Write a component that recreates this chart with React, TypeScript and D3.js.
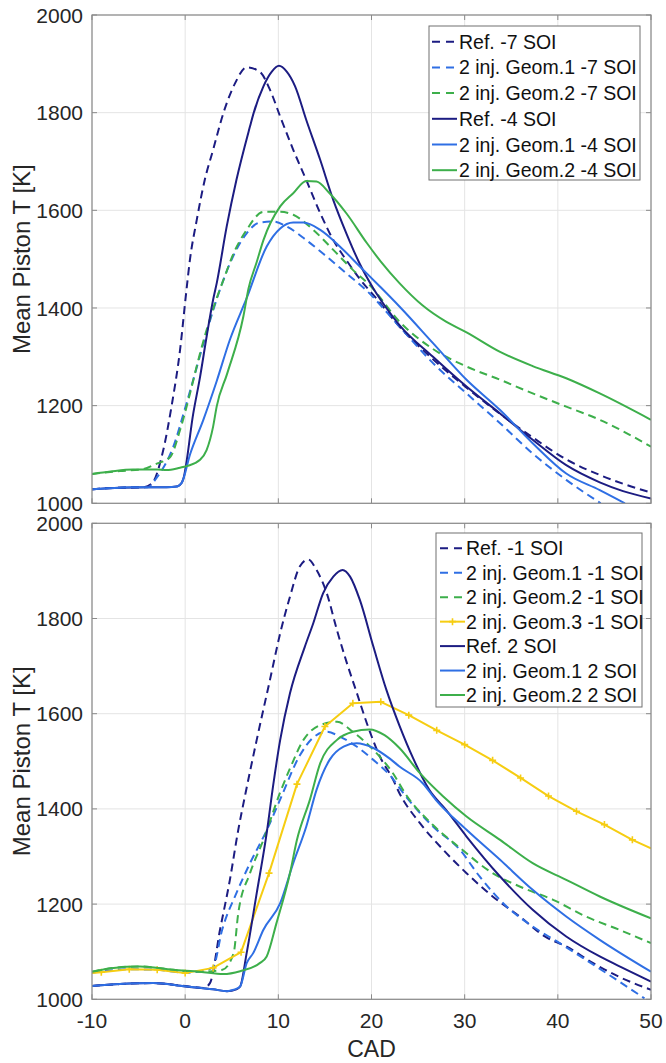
import React from "react";
import * as d3 from "d3";

type Pt = [number, number];

// ---------- axis ticks ----------
const CAD_TICKS = [-10, 0, 10, 20, 30, 40, 50];
const T_TICKS = [1000, 1200, 1400, 1600, 1800, 2000];

// ---------- top panel data (CAD, K) ----------
const refM7: Pt[] = [
  [-10, 1029], [-7, 1032], [-4.5, 1033], [-3.6, 1040], [-2.35, 1109], [-1.45, 1200], [-0.55, 1314],
  [0.1, 1430], [0.52, 1500], [1.24, 1580], [2.1, 1662], [3.0, 1724], [4.1, 1799], [5.35, 1860],
  [6.6, 1893], [8.0, 1884], [9.1, 1847], [10.2, 1792], [11.6, 1724], [13.0, 1662], [14.5, 1594],
  [15.9, 1539], [17.3, 1498], [18.8, 1458], [20.5, 1420], [23, 1362], [26.6, 1295], [30, 1240],
  [33.8, 1183], [37.3, 1135], [40.9, 1090], [44.5, 1058], [47, 1040], [50, 1022],
];
const geo1M7: Pt[] = [
  [-10, 1029], [-7, 1032], [-4, 1033], [-3.0, 1054], [-1.27, 1116], [0, 1195], [1, 1262],
  [2, 1330], [3, 1395], [4, 1452], [5.2, 1508], [6.6, 1553], [8.0, 1575], [9.45, 1577],
  [10.9, 1567], [13.0, 1539], [15.2, 1505], [17.3, 1471], [19.4, 1437], [23, 1362], [26.6, 1287],
  [30.2, 1225], [33.8, 1164], [37.3, 1102], [40.9, 1048], [44.6, 1000],
];
const geo2M7: Pt[] = [
  [-10, 1060], [-7, 1066], [-4.5, 1070], [-3.2, 1080], [-1.6, 1095], [-0.55, 1150], [0.52, 1225],
  [1.5, 1300], [2.3, 1355], [3.2, 1410], [4.1, 1457], [5.2, 1512], [6.6, 1560], [8.4, 1597],
  [10.2, 1597], [11.6, 1591], [13.75, 1560], [15.9, 1519], [18.0, 1478], [19.8, 1447], [23, 1372],
  [26.6, 1316], [30.2, 1280], [33.8, 1253], [37.3, 1225], [40.9, 1198], [44.5, 1171], [50, 1116],
];
const refM4: Pt[] = [
  [-10, 1029], [-7, 1032], [-4, 1033], [-2, 1033], [-0.8, 1035], [-0.37, 1042], [-0.2, 1050],
  [0.87, 1184], [1.6, 1259], [2.3, 1341], [3.0, 1417], [3.4, 1452], [4.46, 1567], [5.5, 1662],
  [6.96, 1772], [7.3, 1796], [8.4, 1854], [9.3, 1884], [10.07, 1896], [10.9, 1884], [11.8, 1854],
  [13.0, 1785], [14.5, 1703], [15.9, 1621], [17.3, 1553], [18.75, 1490], [20.2, 1440], [21.6, 1400],
  [23, 1365], [26.6, 1300], [30.2, 1239], [33.8, 1184], [37.3, 1130], [40.9, 1078], [44.5, 1043],
  [47, 1025], [50, 1010],
];
const geo1M4: Pt[] = [
  [-10, 1029], [-7, 1032], [-5.6, 1033], [-2, 1033], [-1, 1034], [-0.37, 1042], [0.52, 1100],
  [1.95, 1171], [3.38, 1250], [4.8, 1335], [6.6, 1420], [8.75, 1526], [10.2, 1563],
  [11.6, 1575], [12.7, 1575], [14.5, 1560], [16.6, 1526], [18.75, 1485], [20.9, 1444], [23.0, 1403],
  [26.6, 1328], [30.2, 1253], [33.8, 1191], [37.3, 1123], [40.9, 1061], [44.5, 1027], [47.2, 1000],
];
const geo2M4: Pt[] = [
  [-10, 1060], [-8, 1065], [-5.6, 1069], [-3, 1069], [-2, 1068], [-0.55, 1073], [0.3, 1077],
  [1.6, 1089], [2.3, 1109], [3.0, 1157], [3.38, 1198], [4.5, 1265], [6.24, 1382], [6.8, 1440],
  [7.68, 1494], [8.4, 1539], [10.2, 1608], [11.6, 1635], [13.0, 1660], [14.1, 1659], [15.5, 1635],
  [17.3, 1594], [19.5, 1533], [21.0, 1495], [23.0, 1451], [25.5, 1405], [28.0, 1372], [30.2, 1350],
  [33.8, 1310], [37.3, 1281], [40.9, 1256], [44.5, 1225], [50, 1171],
];

// ---------- bottom panel data (CAD, K) ----------
const refM1: Pt[] = [
  [-10, 1028], [-7, 1032], [-3.4, 1034], [0, 1028], [2, 1024], [2.66, 1034], [3.74, 1146],
  [4.8, 1251], [5.7, 1356], [6.5, 1435], [7.68, 1545], [9.1, 1671], [10.2, 1769], [11.25, 1846],
  [12.3, 1909], [13.2, 1924], [14.1, 1902], [15.2, 1853], [16.3, 1775], [17.3, 1710], [18.4, 1645],
  [19.5, 1580], [20.9, 1510], [22.3, 1462], [23.0, 1433], [25.2, 1370], [27.7, 1314], [30.2, 1265],
  [33.0, 1216], [35.9, 1174], [38.6, 1132], [40.9, 1111], [43.8, 1076], [46.6, 1047], [50, 1020],
];
const geo1M1: Pt[] = [
  [-10, 1056], [-6, 1063], [-3, 1062], [0, 1056], [2, 1060], [3.0, 1068], [3.97, 1146],
  [5.5, 1223], [6.96, 1286], [8.75, 1355], [10.2, 1420], [12.3, 1512], [13.75, 1550],
  [15.2, 1562], [16.6, 1552], [18.4, 1531], [20.2, 1503], [22, 1470], [23.7, 1426], [26.6, 1363],
  [29.5, 1314], [31.6, 1258], [34.5, 1195], [37.3, 1153], [40.2, 1118], [43.0, 1083], [46.3, 1041],
  [49.3, 1002],
];
const geo2M1: Pt[] = [
  [-10, 1058], [-7.7, 1066], [-4.85, 1069], [-1.3, 1062], [1.6, 1058], [4.0, 1062], [5.2, 1097],
  [5.7, 1181], [6.96, 1265], [8.4, 1335], [10.2, 1435], [11.25, 1485], [12.7, 1545], [14.5, 1576],
  [16.3, 1583], [18.0, 1562], [20.2, 1524], [22.3, 1475], [23.7, 1430], [26.6, 1366], [29.5, 1318],
  [33.0, 1265], [35.9, 1237], [39.5, 1209], [43.0, 1174], [46.6, 1146], [50, 1118],
];
const geo3M1: Pt[] = [
  [-10, 1055], [-9, 1057], [-6, 1063], [-3, 1062], [0, 1055], [3, 1066], [6, 1099], [9, 1265],
  [12, 1452], [15, 1573], [18, 1622], [21, 1625], [24, 1597], [27, 1565], [30, 1535], [33, 1502],
  [36, 1465], [39, 1427], [42, 1395], [45, 1367], [48, 1335], [50, 1317],
];
const geo3Markers: number[] = [-9, -6, -3, 0, 3, 6, 9, 12, 15, 18, 21, 24, 27, 30, 33, 36, 39, 42, 45, 48];
const ref2: Pt[] = [
  [-10, 1028], [-7, 1032], [-3.4, 1034], [0, 1027], [3, 1021], [4.5, 1017], [5.5, 1021],
  [5.9, 1027], [6.6, 1097], [7.68, 1223], [8.75, 1349], [9.45, 1450], [10.2, 1545], [11.25, 1643],
  [12.85, 1741], [13.75, 1790], [14.8, 1853], [15.9, 1888], [16.9, 1902], [17.7, 1888], [18.75, 1839],
  [20.2, 1741], [21.6, 1650], [23.0, 1575], [24.5, 1505], [26.2, 1440], [28.0, 1398], [30.2, 1342],
  [33.8, 1258], [37.3, 1188], [40.9, 1132], [44.5, 1090], [47.4, 1062], [50, 1037],
];
const geo1P2: Pt[] = [
  [-10, 1028], [-7, 1032], [-3.4, 1034], [0.16, 1027], [3.0, 1021], [4.46, 1017], [5.2, 1020],
  [5.9, 1027], [6.6, 1076], [7.3, 1097], [8.4, 1146], [10.2, 1202], [11.6, 1286], [13.0, 1363],
  [14.1, 1440], [15.5, 1503], [17.0, 1531], [18.4, 1538], [20.2, 1528], [22, 1505], [23.0, 1489],
  [25.5, 1454], [26.9, 1419], [30.2, 1356], [33.8, 1293], [37.3, 1230], [40.9, 1174], [44.5, 1125],
  [50, 1058],
];
const geo2P2: Pt[] = [
  [-10, 1058], [-7.7, 1066], [-4.85, 1069], [-1.3, 1062], [1.6, 1058], [4.1, 1053], [5.9, 1059],
  [8.0, 1076], [8.75, 1090], [9.8, 1160], [11.25, 1265], [12.0, 1335], [13.4, 1420], [14.5, 1496],
  [16.3, 1545], [18.0, 1562], [19.8, 1567], [21.4, 1555], [23.0, 1528], [25.2, 1475], [27.7, 1426],
  [30.2, 1384], [33.8, 1335], [37.3, 1286], [40.9, 1251], [44.5, 1216], [50, 1170],
];

// ---------- legend labels ----------
const TOP_LABELS = [
  "Ref. -7 SOI", "2 inj. Geom.1 -7 SOI", "2 inj. Geom.2 -7 SOI",
  "Ref. -4 SOI", "2 inj. Geom.1 -4 SOI", "2 inj. Geom.2 -4 SOI",
];
const BOTTOM_LABELS = [
  "Ref. -1 SOI", "2 inj. Geom.1 -1 SOI", "2 inj. Geom.2 -1 SOI", "2 inj. Geom.3 -1 SOI",
  "Ref. 2 SOI", "2 inj. Geom.1 2 SOI", "2 inj. Geom.2 2 SOI",
];

// ---------- styles ----------
const NAVY = "#1c1c82";
const BLUE = "#2f6fe4";
const GREEN = "#3daf4b";
const YELLOW = "#f6cd12";
const DASH = "8,5";
const FONT = "'Liberation Sans', Arial, Helvetica, sans-serif";
const TEXT = "#262626";
const AXIS = "#8a8a8a";
const GRID = "#e4e4e4";

interface Series { data: Pt[]; color: string; dash?: string; markers?: number[]; linear?: boolean }

const topSeries: Series[] = [
  { data: refM7, color: NAVY, dash: DASH },
  { data: geo1M7, color: BLUE, dash: DASH },
  { data: geo2M7, color: GREEN, dash: DASH },
  { data: refM4, color: NAVY },
  { data: geo1M4, color: BLUE },
  { data: geo2M4, color: GREEN },
];
const bottomSeries: Series[] = [
  { data: refM1, color: NAVY, dash: DASH },
  { data: geo1M1, color: BLUE, dash: DASH },
  { data: geo2M1, color: GREEN, dash: DASH },
  { data: geo3M1, color: YELLOW, markers: geo3Markers, linear: true },
  { data: ref2, color: NAVY },
  { data: geo1P2, color: BLUE },
  { data: geo2P2, color: GREEN },
];

const X0 = 92, X1 = 651;
const x = d3.scaleLinear().domain([-10, 50]).range([X0, X1]);

interface PanelProps {
  id: string;
  top: number;
  bottom: number;
  series: Series[];
  labels: string[];
  showX: boolean;
  legend: { x: number; y: number; w: number; h: number; row0: number; rowH: number; lx0: number; lx1: number; tx: number };
}

function Plus({ cx, cy, color }: { cx: number; cy: number; color: string }) {
  const s = 3.5;
  return (
    <path d={`M${cx - s},${cy}H${cx + s}M${cx},${cy - s}V${cy + s}`} stroke={color} strokeWidth={1.6} fill="none" />
  );
}

function Panel({ id, top, bottom, series, labels, showX, legend }: PanelProps) {
  const y = d3.scaleLinear().domain([1000, 2000]).range([bottom, top]);
  const pathOf = (s: Series) =>
    d3
      .line<Pt>()
      .x((d) => x(d[0]))
      .y((d) => y(d[1]))
      .curve(s.linear ? d3.curveLinear : d3.curveMonotoneX)(s.data) || "";
  const tickLen = 5;
  const fs = 21;
  const midY = (top + bottom) / 2;
  return (
    <g>
      <defs>
        <clipPath id={id}>
          <rect x={X0} y={top} width={X1 - X0} height={bottom - top} />
        </clipPath>
      </defs>
      <rect x={X0} y={top} width={X1 - X0} height={bottom - top} fill="#fff" />
      {CAD_TICKS.map((t) => (
        <line key={"gx" + t} x1={x(t)} x2={x(t)} y1={top} y2={bottom} stroke={GRID} strokeWidth={1} />
      ))}
      {T_TICKS.map((t) => (
        <line key={"gy" + t} x1={X0} x2={X1} y1={y(t)} y2={y(t)} stroke={GRID} strokeWidth={1} />
      ))}
      <g clipPath={`url(#${id})`}>
        {series.map((s, i) => (
          <g key={i}>
            <path d={pathOf(s)} fill="none" stroke={s.color} strokeWidth={2}
              strokeDasharray={s.dash} strokeLinejoin="round" />
            {s.markers &&
              s.markers.map((m) => {
                const pt = s.data.find((d) => d[0] === m);
                return pt ? <Plus key={m} cx={x(pt[0])} cy={y(pt[1])} color={s.color} /> : null;
              })}
          </g>
        ))}
      </g>
      {CAD_TICKS.map((t) => (
        <g key={"tx" + t}>
          <line x1={x(t)} x2={x(t)} y1={bottom} y2={bottom - tickLen} stroke={AXIS} strokeWidth={1} />
          <line x1={x(t)} x2={x(t)} y1={top} y2={top + tickLen} stroke={AXIS} strokeWidth={1} />
        </g>
      ))}
      {T_TICKS.map((t) => (
        <g key={"ty" + t}>
          <line x1={X0} x2={X0 + tickLen} y1={y(t)} y2={y(t)} stroke={AXIS} strokeWidth={1} />
          <line x1={X1} x2={X1 - tickLen} y1={y(t)} y2={y(t)} stroke={AXIS} strokeWidth={1} />
        </g>
      ))}
      <rect x={X0} y={top} width={X1 - X0} height={bottom - top} fill="none" stroke={AXIS} strokeWidth={1.2} />
      {T_TICKS.map((t) => (
        <text key={"yl" + t} x={83} y={y(t) + fs * 0.36} textAnchor="end" fontSize={fs} fill={TEXT} fontFamily={FONT}>
          {t}
        </text>
      ))}
      {showX &&
        CAD_TICKS.map((t) => (
          <text key={"xl" + t} x={x(t)} y={1020 + fs * 0.36} textAnchor="middle" fontSize={fs} fill={TEXT} fontFamily={FONT}>
            {t}
          </text>
        ))}
      {showX && (
        <text x={(X0 + X1) / 2} y={1057} textAnchor="middle" fontSize={23} fill={TEXT} fontFamily={FONT}>
          CAD
        </text>
      )}
      <text transform={`translate(30,${midY}) rotate(-90)`} textAnchor="middle" fontSize={24} fill={TEXT} fontFamily={FONT}>
        Mean Piston T [K]
      </text>
      <rect x={legend.x} y={legend.y} width={legend.w} height={legend.h} fill="#fff" stroke="#707070" strokeWidth={1} />
      {series.map((s, i) => {
        const cy = legend.row0 + i * legend.rowH;
        return (
          <g key={"lg" + i}>
            <line x1={legend.lx0} x2={legend.lx1} y1={cy} y2={cy} stroke={s.color} strokeWidth={2}
              strokeDasharray={s.dash ? "8,6" : undefined} />
            {s.markers && <Plus cx={(legend.lx0 + legend.lx1) / 2} cy={cy} color={s.color} />}
            <text x={legend.tx} y={cy + 19.5 * 0.36} fontSize={19.5} fill="#111" fontFamily={FONT}>
              {labels[i]}
            </text>
          </g>
        );
      })}
    </g>
  );
}

export default function App() {
  return (
    <svg width={666} height={1063} style={{ position: "absolute", left: 0, top: 0, background: "#fff" }}>
      <rect x={0} y={0} width={666} height={1063} fill="#fff" />
      <Panel
        id="clipTop"
        top={15}
        bottom={503.3}
        series={topSeries}
        labels={TOP_LABELS}
        showX={false}
        legend={{ x: 429, y: 26, w: 211, h: 154, row0: 41.7, rowH: 25.7, lx0: 432, lx1: 457, tx: 459 }}
      />
      <Panel
        id="clipBottom"
        top={523.3}
        bottom={999.3}
        series={bottomSeries}
        labels={BOTTOM_LABELS}
        showX={true}
        legend={{ x: 436, y: 533, w: 206, h: 174, row0: 548.3, rowH: 24.45, lx0: 440, lx1: 465, tx: 466 }}
      />
    </svg>
  );
}
